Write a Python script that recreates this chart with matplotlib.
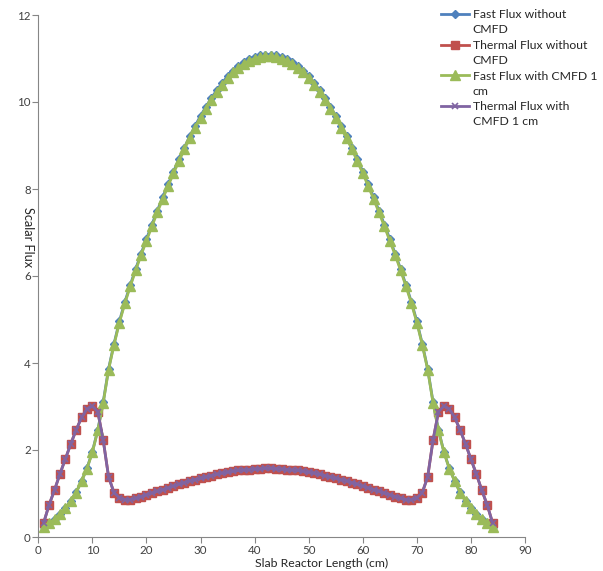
import numpy as np
import matplotlib
matplotlib.use('Agg')
import matplotlib.pyplot as plt

#-------------------------------------------------------------------------------
# values, one point per cm from 1 to 84

x_cm = np.arange(1, 85)

fast_without = [0.23, 0.33, 0.42, 0.53, 0.67, 0.83, 1.03, 1.29, 1.58, 1.96, 2.46, 3.10,
                3.87, 4.44, 4.96, 5.40, 5.79, 6.16, 6.51, 6.85, 7.18, 7.50,
                7.81, 8.11, 8.40, 8.68, 8.95, 9.21, 9.45, 9.68, 9.89, 10.09,
                10.27, 10.44, 10.59, 10.72, 10.83, 10.92, 10.99, 11.04, 11.07, 11.09,
                11.09, 11.07, 11.04, 10.99, 10.92, 10.83, 10.72, 10.59, 10.44, 10.27,
                10.09, 9.89, 9.68, 9.45, 9.21, 8.95, 8.68, 8.40, 8.11, 7.81,
                7.50, 7.18, 6.85, 6.51, 6.16, 5.79, 5.40, 4.96, 4.44, 3.87,
                3.10, 2.46, 1.96, 1.58, 1.29, 1.03, 0.83, 0.67, 0.53, 0.42, 0.33, 0.23]

thermal_without = [0.33, 0.74, 1.08, 1.45, 1.79, 2.14, 2.46, 2.75, 2.94, 3.01, 2.88, 2.23,
                   1.38, 1.02, 0.90, 0.86, 0.86, 0.89, 0.93, 0.97, 1.01, 1.05,
                   1.09, 1.13, 1.17, 1.21, 1.25, 1.29, 1.32, 1.35, 1.38, 1.41,
                   1.44, 1.47, 1.49, 1.51, 1.53, 1.54, 1.55, 1.56, 1.57, 1.58,
                   1.58, 1.57, 1.56, 1.55, 1.54, 1.53, 1.51, 1.49, 1.47, 1.44,
                   1.41, 1.38, 1.35, 1.32, 1.29, 1.25, 1.21, 1.17, 1.13, 1.09,
                   1.05, 1.01, 0.97, 0.93, 0.89, 0.86, 0.86, 0.90, 1.02, 1.38,
                   2.23, 2.88, 3.01, 2.94, 2.75, 2.46, 2.14, 1.79, 1.45, 1.08, 0.74, 0.33]

fast_with = [0.22, 0.32, 0.41, 0.52, 0.66, 0.82, 1.02, 1.28, 1.57, 1.95, 2.45, 3.08,
             3.85, 4.42, 4.93, 5.37, 5.76, 6.13, 6.48, 6.81, 7.14, 7.46,
             7.77, 8.07, 8.36, 8.64, 8.91, 9.17, 9.41, 9.64, 9.85, 10.05,
             10.23, 10.40, 10.55, 10.68, 10.79, 10.88, 10.95, 11.00, 11.03, 11.05,
             11.05, 11.03, 11.00, 10.95, 10.88, 10.79, 10.68, 10.55, 10.40, 10.23,
             10.05, 9.85, 9.64, 9.41, 9.17, 8.91, 8.64, 8.36, 8.07, 7.77,
             7.46, 7.14, 6.81, 6.48, 6.13, 5.76, 5.37, 4.93, 4.42, 3.85,
             3.08, 2.45, 1.95, 1.57, 1.28, 1.02, 0.82, 0.66, 0.52, 0.41, 0.32, 0.22]

# thermal flux with CMFD lies right on top of the one without
thermal_with = list(thermal_without)

labels = ['Fast Flux without\nCMFD', 'Thermal Flux without\nCMFD',
          'Fast Flux with CMFD 1\ncm', 'Thermal Flux with\nCMFD 1 cm']

xticks = np.arange(0, 91, 10)
yticks = np.arange(0, 13, 2)

#-------------------------------------------------------------------------------

plt.rcParams['font.family'] = ['Lato', 'DejaVu Sans']

W, H = 603, 571
fig = plt.figure(figsize=(W/100, H/100), dpi=100)
ax = fig.add_axes([38.3/W, 1-537/H, (525-38.3)/W, (537-15)/H])

l1, = ax.plot(x_cm, fast_without, c='#4F81BD', lw=2, marker='D', ms=4, mec='#4F81BD')
l2, = ax.plot(x_cm, thermal_without, c='#C0504D', lw=2, marker='s', ms=6, mec='#C0504D')
l3, = ax.plot(x_cm, fast_with, c='#9BBB59', lw=2, marker='^', ms=6.8, mec='#9BBB59')
l4, = ax.plot(x_cm, thermal_with, c='#8064A2', lw=2, marker='x', ms=4, mew=1.2)

ax.set_xlim(0, 90)
ax.set_ylim(0, 12)
ax.set_xticks(xticks)
ax.set_yticks(yticks)

for s in ['top', 'right']:
    ax.spines[s].set_visible(False)
for s in ['left', 'bottom']:
    ax.spines[s].set_color('#868686')
    ax.spines[s].set_linewidth(0.8)
ax.tick_params(direction='out', length=4, width=0.8, color='#868686',
               labelsize=8.3, labelcolor='#404040', pad=1.5)

fig.text(322/W, 1-563/H, 'Slab Reactor Length (cm)', ha='center', va='center',
         fontsize=8.8, color='#262626')
fig.text(28/W, 1-237/H, 'Scalar Flux', ha='center', va='center', rotation=270,
         fontsize=9.2, color='#262626')

# legend: first line next to the handle, second line under it
first = [s.split('\n')[0] for s in labels]
second = [s.split('\n')[1] for s in labels]
leg = ax.legend([l1, l2, l3, l4], first, loc='upper left',
                bbox_to_anchor=(441/W, 1-9/H), bbox_transform=fig.transFigure,
                frameon=False, fontsize=8.8, handlelength=2.3, handletextpad=0.3,
                labelspacing=1.62, borderpad=0, borderaxespad=0)
for t in leg.get_texts():
    t.set_color('#262626')
fig.canvas.draw()
inv = fig.transFigure.inverted()
for t, s in zip(leg.get_texts(), second):
    bb = t.get_window_extent()
    x0, y0 = inv.transform((bb.x0, bb.y0 - 15))
    fig.text(x0, y0, s, ha='left', va='bottom', fontsize=8.8, color='#262626')

plt.savefig('out.png', dpi=100)
